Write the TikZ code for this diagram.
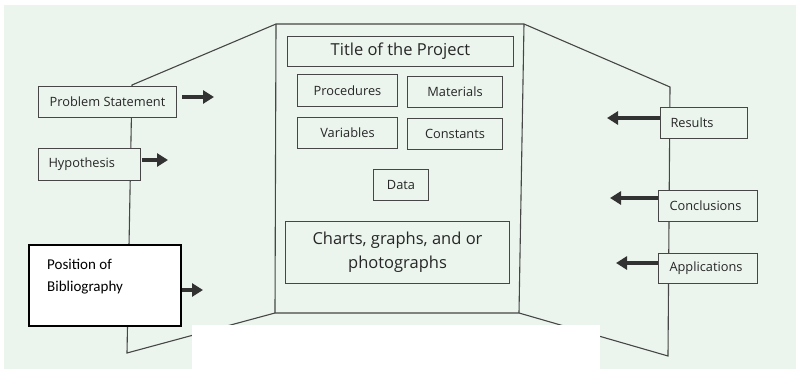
\documentclass[tikz,border=0pt]{standalone}
\usepackage{fontspec}
\setmainfont{Open Sans}
\newfontfamily\bibfont{Carlito}
\usetikzlibrary{arrows.meta}
\definecolor{bg}{RGB}{235,245,238}
\definecolor{ln}{RGB}{70,70,70}
\definecolor{arr}{RGB}{50,50,50}
\begin{document}
\begin{tikzpicture}[x=1pt,y=-1pt,
  bx/.style={draw=ln,line width=1pt,fill=bg,inner sep=0pt,anchor=north west},
  lbl/.style={font=\fontsize{12.8}{15}\selectfont,text=black!85},
  big/.style={font=\fontsize{16.5}{24}\selectfont,text=black!85},
  arrw/.style={draw=arr,line width=4pt,-{Triangle[length=11pt,width=13pt]}},
  board/.style={draw=ln,line width=1.1pt}]
\useasboundingbox (0,0) rectangle (796,369);
\fill[white] (0,0) rectangle (796,369);
\fill[bg] (4,5) rectangle (796,369);
% board panels
\coordinate (ctl) at (276,24);
\coordinate (ctr) at (524,24);
\coordinate (cbl) at (275,313);
\coordinate (cbr) at (519,313);
\coordinate (ltop) at (132,85);
\coordinate (lbot) at (127,353);
\coordinate (rtop) at (670,87);
\coordinate (rbot) at (668,356);
\draw[board] (ltop) -- (ctl) -- (ctr) -- (rtop) -- (rbot) -- (cbr) -- (cbl) -- (lbot) -- cycle;
\draw[board] (ctl) -- (cbl);
\draw[board] (ctr) -- (cbr);
% white cover
\fill[white] (192,325) rectangle (600,369);
% center boxes
\node[bx,minimum width=226pt,minimum height=30pt] (title) at (287,36) {};
\node[big] at (title.center) {Title of the Project};
\node[bx,minimum width=100pt,minimum height=32pt] (proc) at (297,74) {};
\node[lbl] at (proc.center) {Procedures};
\node[bx,minimum width=95pt,minimum height=31pt] (mat) at (407,76) {};
\node[lbl] at (mat.center) {Materials};
\node[bx,minimum width=100pt,minimum height=31pt] (var) at (297,117) {};
\node[lbl] at (var.center) {Variables};
\node[bx,minimum width=95pt,minimum height=31pt] (cons) at (407,118) {};
\node[lbl] at (cons.center) {Constants};
\node[bx,minimum width=55pt,minimum height=31pt] (data) at (373,169) {};
\node[lbl] at (data.center) {Data};
\node[bx,minimum width=224pt,minimum height=62pt] (charts) at (285,221) {};
\node[big,align=center] at (charts.center) {Charts, graphs, and or\\photographs};
% left boxes
\node[bx,minimum width=138pt,minimum height=31pt] (prob) at (38,86) {};
\node[lbl] at (prob.center) {Problem Statement};
\node[bx,minimum width=102pt,minimum height=32pt] (hyp) at (38,148) {};
\node[lbl,anchor=west] at ([xshift=7pt]hyp.west) {Hypothesis};
\coordinate (pa1) at (182,97); \coordinate (pa2) at (214,97);
\draw[arrw] (pa1) -- (pa2);
\coordinate (ha1) at (142,160); \coordinate (ha2) at (168,160);
\draw[arrw] (ha1) -- (ha2);
\coordinate (ba1) at (180,290); \coordinate (ba2) at (203,290);
\draw[arrw] (ba1) -- (ba2);
\node[draw=black,line width=2pt,fill=white,minimum width=152pt,minimum height=81pt,anchor=north west] (bib) at (27.5,243.5) {};
\node[anchor=north west,font=\bibfont\fontsize{15}{22}\selectfont,align=left,inner sep=0pt] at (47,259) {Position of\\Bibliography};
% right boxes
\node[bx,minimum width=87pt,minimum height=31pt] (res) at (660,107) {};
\node[lbl,anchor=west] at ([xshift=7pt]res.west) {Results};
\node[bx,minimum width=99pt,minimum height=31pt] (conc) at (658,190) {};
\node[lbl,anchor=west] at ([xshift=8pt]conc.west) {Conclusions};
\node[bx,minimum width=99pt,minimum height=30pt] (app) at (658,253) {};
\node[lbl,anchor=west] at ([xshift=8pt]app.west) {Applications};
\draw[arrw] (res.west |- 0,118) -- (607,118);
\draw[arrw] (conc.west |- 0,198) -- (610,198);
\draw[arrw] (app.west |- 0,263) -- (616,263);
\end{tikzpicture}
\end{document}
